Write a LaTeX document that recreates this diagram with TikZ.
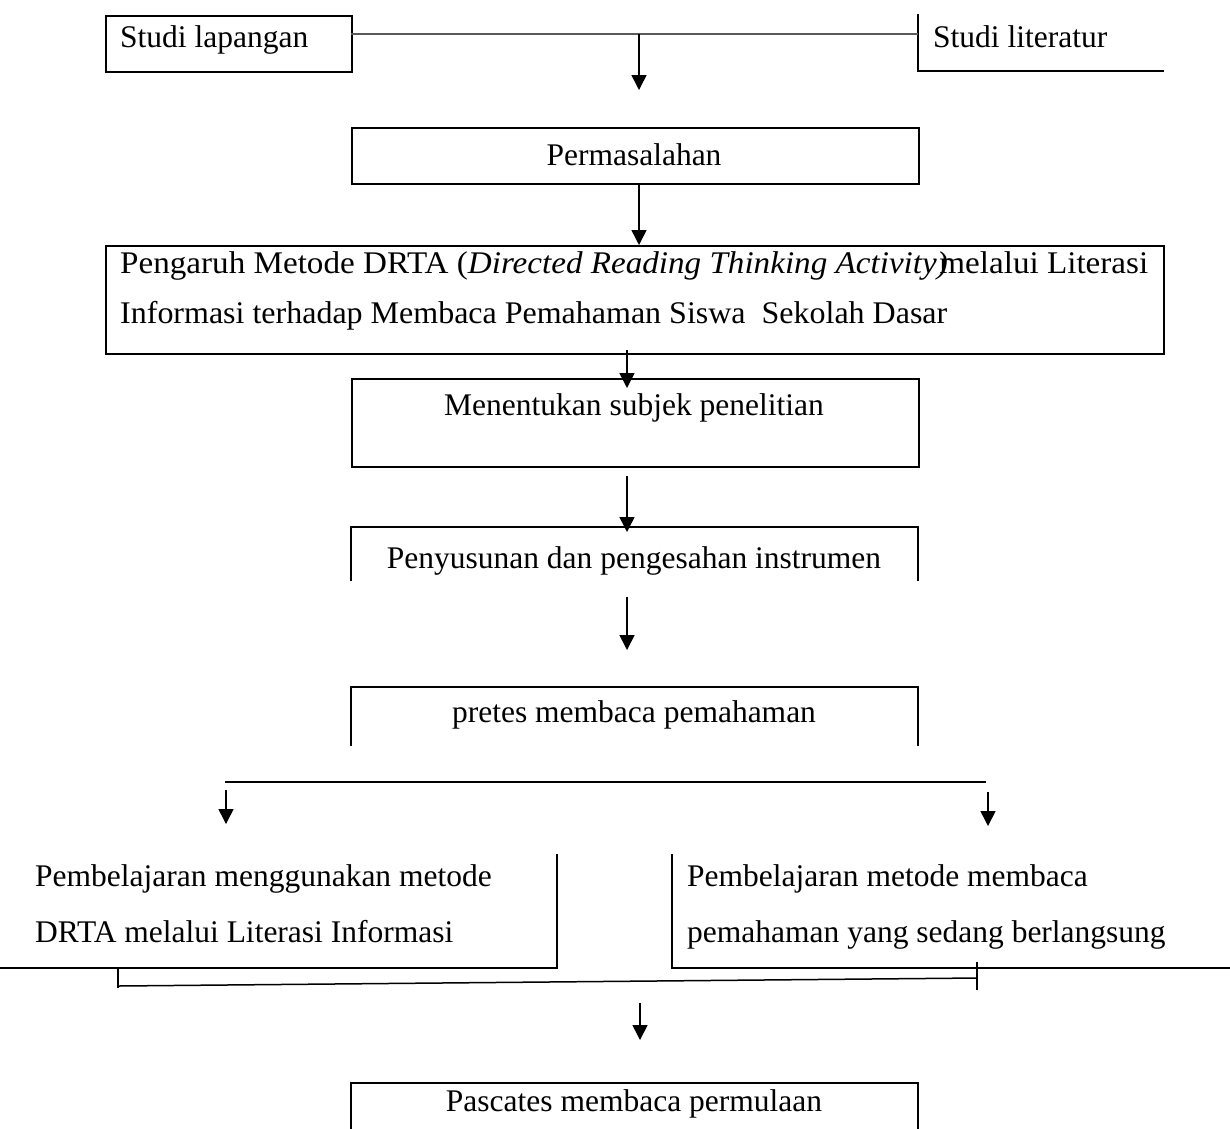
\documentclass[tikz,border=0pt]{standalone}
\usepackage{fontspec}
\setmainfont{Liberation Serif}
\usetikzlibrary{arrows.meta}
\begin{document}
\begin{tikzpicture}[x=1pt,y=-1pt,
  txt/.style={inner sep=0pt, font=\fontsize{31.5}{38}\selectfont},
  frame/.style={line width=2.3pt, black, line cap=rect},
  boxnode/.style={draw, frame, inner sep=0pt, anchor=north west},
  conn/.style={line width=1.5pt, -{Triangle[width=15pt,length=15pt]}},
  thin/.style={line width=1.5pt},
  greyline/.style={line width=2pt, draw=black!65}]
\useasboundingbox[fill=white] (0,0) rectangle (1230,1128);

% --- top row
\node[boxnode, minimum width=246pt, minimum height=56pt] (lap) at (105,15) {};
\node[txt, anchor=base west] (laptxt) at (120,47) {Studi lapangan};
\coordinate (litNW) at (918,15);
\coordinate (litSW) at (918,71);
\coordinate (litSE) at (1163,71);
\draw[frame] (litNW) -- (litSW) -- (litSE);
\node[txt, anchor=base west] (littxt) at (933,47) {Studi literatur};
\coordinate (joinL) at (351,34);
\coordinate (joinR) at (918,34);
\coordinate (joinM) at (639,34);
\draw[greyline] (joinL) -- (joinR);
\coordinate (tip1) at (639,90);
\draw[conn] (joinM) -- (tip1);

% --- Permasalahan
\node[boxnode, minimum width=567pt, minimum height=56pt] (perm) at (351,127) {};
\node[txt, anchor=base] (permtxt) at (634,165) {Permasalahan};
\draw[conn] (perm.south -| 639,0) -- (639,245);

% --- Pengaruh
\node[boxnode, minimum width=1058pt, minimum height=108pt] (peng) at (105,245) {};
\node[txt, anchor=base west] (peng1) at (120,273) {\resizebox{1028pt}{\height}{Pengaruh Metode DRTA (\textit{Directed Reading Thinking Activity)}\kern-8pt melalui Literasi}};
\node[txt, anchor=base west] (peng2) at (120,323) {\resizebox{827pt}{\height}{Informasi terhadap Membaca Pemahaman Siswa\ \ Sekolah Dasar}};

% --- Menentukan
\node[boxnode, minimum width=567pt, minimum height=88pt] (mene) at (351,378) {};
\node[txt, anchor=base] (menetxt) at (634,415) {Menentukan subjek penelitian};
\draw[conn] (627,350) -- (627,388);

% --- Penyusunan
\coordinate (pyA) at (351,580);
\coordinate (pyB) at (351,527);
\coordinate (pyC) at (918,527);
\coordinate (pyD) at (918,580);
\draw[frame] (pyA) -- (pyB) -- (pyC) -- (pyD);
\node[txt, anchor=base] (pytxt) at (634,568) {Penyusunan dan pengesahan instrumen};
\draw[conn] (627,476) -- (627,532);

% --- free arrow
\coordinate (fa1) at (627,597);
\coordinate (fa2) at (627,650);
\draw[conn] (fa1) -- (fa2);

% --- pretes
\coordinate (prA) at (351,745);
\coordinate (prB) at (351,687);
\coordinate (prC) at (918,687);
\coordinate (prD) at (918,745);
\draw[frame] (prA) -- (prB) -- (prC) -- (prD);
\node[txt, anchor=base] (prtxt) at (634,722) {pretes membaca pemahaman};

% --- split
\coordinate (spL) at (225,782);
\coordinate (spR) at (986,782);
\draw[thin] (spL) -- (spR);
\draw[conn] (226,790) -- (226,824);
\draw[conn] (988,792) -- (988,826);

% --- left box
\coordinate (lbA) at (557,855);
\coordinate (lbB) at (557,968);
\coordinate (lbC) at (0,968);
\draw[frame] (lbA) -- (lbB) -- (lbC);
\node[txt, anchor=base west] (lb1) at (35,886) {Pembelajaran menggunakan metode};
\node[txt, anchor=base west] (lb2) at (35,942) {DRTA melalui Literasi Informasi};

% --- right box
\coordinate (rbA) at (672,855);
\coordinate (rbB) at (672,968);
\coordinate (rbC) at (1230,968);
\draw[frame] (rbA) -- (rbB) -- (rbC);
\node[txt, anchor=base west] (rb1) at (687,886) {Pembelajaran metode membaca};
\node[txt, anchor=base west] (rb2) at (687,942) {pemahaman yang sedang berlangsung};

% --- merge
\coordinate (mgL1) at (118,968);
\coordinate (mgL2) at (118,988);
\coordinate (mgR1) at (977,962);
\coordinate (mgR2) at (977,990);
\draw[thin] (mgL1) -- (mgL2);
\draw[thin] (mgR1) -- (mgR2);
\draw[thin] (118,986) -- (977,978);
\draw[conn] (640,1003) -- (640,1040);

% --- Pascates
\coordinate (paA) at (351,1130);
\coordinate (paB) at (351,1083);
\coordinate (paC) at (918,1083);
\coordinate (paD) at (918,1130);
\draw[frame] (paA) -- (paB) -- (paC) -- (paD);
\node[txt, anchor=base] (patxt) at (634,1111) {Pascates membaca permulaan};
\end{tikzpicture}
\end{document}
